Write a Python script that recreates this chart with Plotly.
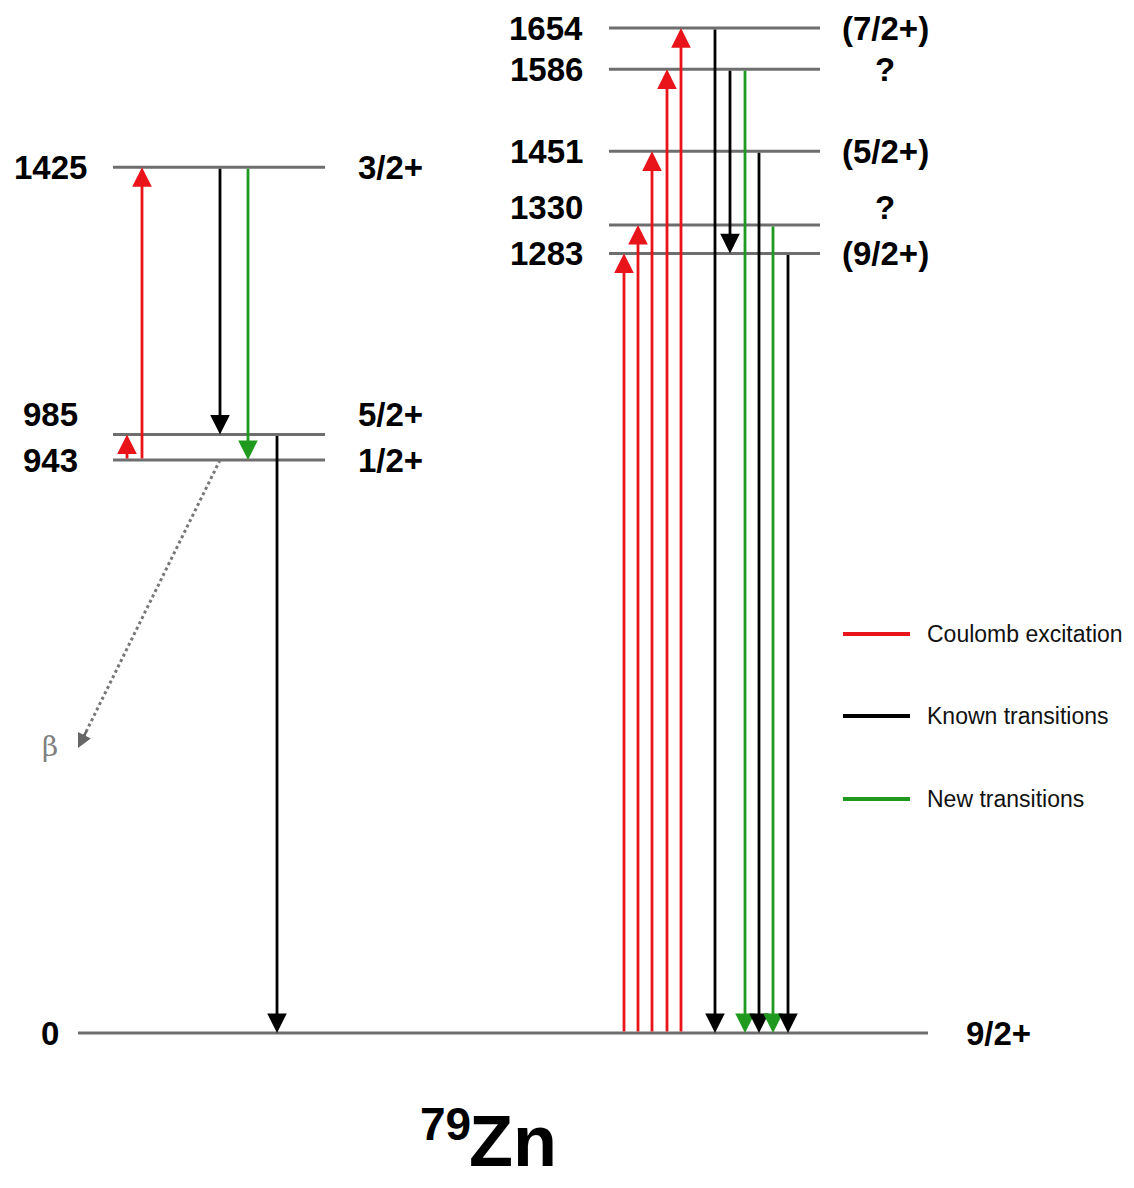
import plotly.graph_objects as go

# ---------------- data ----------------
level_energy = [0, 943, 985, 1425, 1283, 1330, 1451, 1586, 1654]
level_spin = ["9/2+", "1/2+", "5/2+", "3/2+", "(9/2+)", "?", "(5/2+)", "?", "(7/2+)"]
level_group = ["ground", "left", "left", "left", "right", "right", "right", "right", "right"]

trans_from = [943, 943, 1425, 1425, 985,
              0, 0, 0, 0, 0,
              1654, 1586, 1586, 1451, 1330, 1283]
trans_to = [985, 1425, 985, 943, 0,
            1283, 1330, 1451, 1586, 1654,
            0, 1283, 0, 0, 0, 0]
trans_kind = ["coulex", "coulex", "known", "new", "known",
              "coulex", "coulex", "coulex", "coulex", "coulex",
              "known", "known", "new", "known", "new", "known"]

legend_kinds = ["coulex", "known", "new"]
legend_labels = ["Coulomb excitation", "Known transitions", "New transitions"]

beta_from_level = 943
beta_label = "β"
nucleus_mass = "79"
nucleus_symbol = "Zn"

# ---------------- layout / style ----------------
W, H = 1134, 1188
OFF = 8  # page body margin
PX_PER_KEV = 0.6076
Y0_PX = 1033  # pixel row of ground state


def px_to_e(py):
    return (Y0_PX - py) / PX_PER_KEV


def py_paper(py):
    return 1 - (py - OFF) / (H - OFF)


colors = {"coulex": "#e8141a", "known": "#000000", "new": "#1f9a1f"}
level_color = "#6e6e6e"
group_extent = {"left": (113, 325), "right": (609, 820), "ground": (78, 928)}
energy_label_x = {"left": 50, "right": 546, "ground": 50}
spin_label_x = {"left": 390, "right": 885, "ground": 998}
label_dy_px = {985: -20, 1330: -17}
trans_x = [127, 142, 220, 248, 277,
           624, 638, 652, 667, 681,
           715, 730, 745, 759, 773, 788]
FONT = "Liberation Sans, Arial, Helvetica, sans-serif"

fig = go.Figure()
annotations = []

# levels
for e, s, g in zip(level_energy, level_spin, level_group):
    x0, x1 = group_extent[g]
    fig.add_trace(go.Scatter(x=[x0, x1], y=[e, e], mode="lines",
                             line=dict(color=level_color, width=3),
                             hoverinfo="skip", showlegend=False))
    dy = label_dy_px.get(e, 0) / PX_PER_KEV
    annotations.append(dict(x=energy_label_x[g], y=e - dy, xref="x", yref="y",
                            text=str(e), showarrow=False, xanchor="center", yanchor="middle",
                            font=dict(family=FONT, size=33, color="black", weight="bold")))
    annotations.append(dict(x=spin_label_x[g], y=e - dy, xref="x", yref="y",
                            text=s, showarrow=False, xanchor="center", yanchor="middle",
                            font=dict(family=FONT, size=33, color="black", weight="bold")))

# transitions
for xf, ef, et, k in zip(trans_x, trans_from, trans_to, trans_kind):
    annotations.append(dict(x=xf, y=et, ax=xf, ay=ef, xref="x", yref="y",
                            axref="x", ayref="y", text="", showarrow=True,
                            arrowhead=2, arrowsize=1.4, arrowwidth=2.8,
                            arrowcolor=colors[k], standoff=0, startstandoff=0,
                            font=dict(size=1)))

# beta decay branch (dotted, from the 943 level towards the lower left)
bx0, bx1 = 220, 78
be0, be1 = beta_from_level, px_to_e(748)
fig.add_trace(go.Scatter(x=[bx0, bx1 + 4], y=[be0, be1 + 8 / PX_PER_KEV], mode="lines",
                         line=dict(color="#777777", width=3, dash="dot"),
                         hoverinfo="skip", showlegend=False))
annotations.append(dict(x=bx1, y=be1, ax=bx1 + 9, ay=be1 + 18 / PX_PER_KEV,
                        xref="x", yref="y", axref="x", ayref="y", text="",
                        showarrow=True, arrowhead=2, arrowsize=1.1, arrowwidth=2.6,
                        arrowcolor="#666666", standoff=0, font=dict(size=1)))
annotations.append(dict(x=50, y=px_to_e(746), xref="x", yref="y", text=beta_label,
                        showarrow=False, xanchor="center", yanchor="middle",
                        font=dict(family="DejaVu Serif, serif", size=28, color="#808080")))

# legend
legend_py = [634, 716, 799]
shapes = []
for k, lab, py in zip(legend_kinds, legend_labels, legend_py):
    shapes.append(dict(type="line", xref="x", yref="paper", x0=843, x1=910,
                       y0=py_paper(py), y1=py_paper(py),
                       line=dict(color=colors[k], width=4)))
    annotations.append(dict(x=925, y=py_paper(py), xref="x", yref="paper", text=lab,
                            showarrow=False, xanchor="left", yanchor="middle",
                            font=dict(family=FONT, size=23, color="#111111")))

# nucleus label
annotations.append(dict(x=473, y=py_paper(1124), xref="x", yref="paper", text=nucleus_mass,
                        showarrow=False, xanchor="right", yanchor="middle",
                        font=dict(family=FONT, size=46, color="black", weight="bold")))
annotations.append(dict(x=467, y=py_paper(1141), xref="x", yref="paper", text=nucleus_symbol,
                        showarrow=False, xanchor="left", yanchor="middle",
                        font=dict(family=FONT, size=72, color="black", weight="bold")))

fig.update_layout(
    width=W - OFF, height=H - OFF,
    margin=dict(l=0, r=0, t=0, b=0),
    paper_bgcolor="white", plot_bgcolor="white",
    xaxis=dict(range=[OFF, W], visible=False, fixedrange=True),
    yaxis=dict(range=[px_to_e(H), px_to_e(OFF)], visible=False, fixedrange=True),
    annotations=annotations, shapes=shapes, showlegend=False,
)

fig.write_html("out.html")
